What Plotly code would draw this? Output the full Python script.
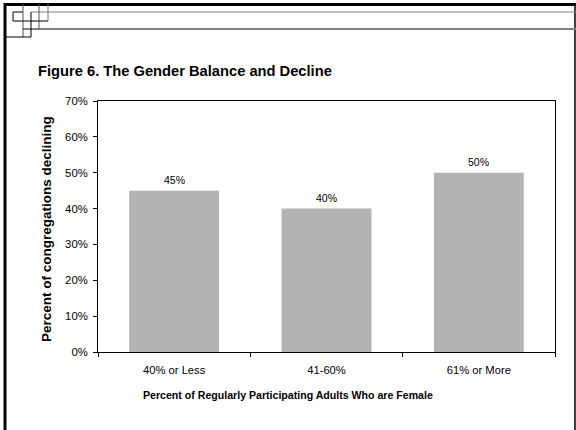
import plotly.graph_objects as go

categories = ["40% or Less", "41-60%", "61% or More"]
values = [45, 40, 50]
labels = ["45%", "40%", "50%"]
y_ticks = [0, 10, 20, 30, 40, 50, 60, 70]
y_tick_text = ["0%", "10%", "20%", "30%", "40%", "50%", "60%", "70%"]

W, H = 576, 430
L, R, T, B = 98, 21, 101, 78
PW, PH = W - L - R, H - T - B

def px(x):
    return (x - L) / PW

def py(y):
    return (H - B - y) / PH

fig = go.Figure()
fig.add_trace(go.Bar(
    x=categories, y=values,
    marker=dict(color="#b3b3b3", line=dict(width=0)),
    showlegend=False, hoverinfo="skip",
))

shapes = []
def line(x0, y0, x1, y1, color="#000000", width=1):
    shapes.append(dict(type="line", xref="paper", yref="paper",
                       x0=px(x0), y0=py(y0), x1=px(x1), y1=py(y1),
                       line=dict(color=color, width=width), layer="above"))

# frame
line(5, 3, 5, 432, width=3)
line(4, 4.5, 577, 4.5, width=3)
line(575, 4, 575, 432, width=1.5)
line(31, 12, 577, 12, color="#7f7f7f", width=1)
line(39, 29, 577, 29, color="#808080", width=2)
# decorative squares
line(13, 12, 23, 12)
line(13, 12, 13, 21)
line(23, 4, 23, 37, color="#555555")
line(31, 12, 31, 37)
line(39, 4, 39, 29, color="#555555")
line(48, 4, 48, 21, color="#777777")
line(13, 21, 48, 21)
line(23, 29, 39, 29)
line(5, 37, 31, 37)

annotations = [
    dict(x=c, y=v, text=t, xref="x", yref="y", xanchor="center", yanchor="bottom",
         yshift=3, showarrow=False, font=dict(size=10.5))
    for c, v, t in zip(categories, values, labels)
]
annotations += [
    dict(text="<b>Figure 6. The Gender Balance and Decline</b>",
         xref="paper", yref="paper", x=px(36), y=py(71), xanchor="left", yanchor="middle",
         showarrow=False, font=dict(size=14.7)),
    dict(text="<b>Percent of congregations declining</b>",
         xref="paper", yref="paper", x=px(46), y=py(229), xanchor="center", yanchor="middle",
         textangle=-90, showarrow=False, font=dict(size=13.5)),
    dict(text="<b>Percent of Regularly Participating Adults Who are Female</b>",
         xref="paper", yref="paper", x=px(288), y=py(395), xanchor="center", yanchor="middle",
         showarrow=False, font=dict(size=10.6)),
]

fig.update_layout(
    width=W, height=H,
    margin=dict(l=L, r=R, t=T, b=B, autoexpand=False),
    paper_bgcolor="#ffffff", plot_bgcolor="#ffffff",
    bargap=0.41,
    font=dict(family="Liberation Sans, Arial", size=10, color="#000000"),
    shapes=shapes,
    xaxis=dict(
        showline=True, linecolor="#000000", linewidth=1, mirror=True,
        ticks="outside", ticklen=4, tickcolor="#000000",
        tickson="boundaries", showgrid=False,
        tickfont=dict(size=11.2), ticklabelstandoff=8,
    ),
    yaxis=dict(
        range=[0, 70], tickvals=y_ticks, ticktext=y_tick_text,
        showline=True, linecolor="#000000", linewidth=1, mirror=True,
        ticks="outside", ticklen=4, tickcolor="#000000",
        showgrid=False, zeroline=False, tickfont=dict(size=11.3),
        ticklabelstandoff=3,
    ),
    annotations=annotations,
)

fig.write_html(
    "out.html",
    config={"displayModeBar": False},
    post_script="document.body.style.margin='0';document.body.style.padding='0';document.body.style.overflow='hidden';",
)
